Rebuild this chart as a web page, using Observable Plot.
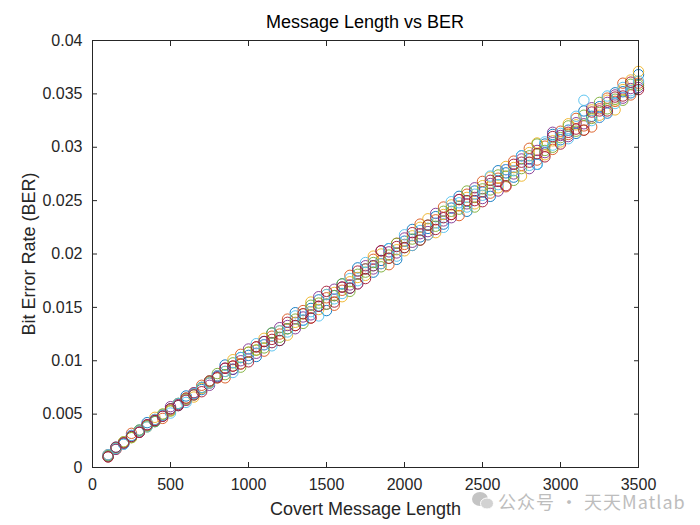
<!DOCTYPE html>
<html><head><meta charset="utf-8">
<script src="https://cdn.jsdelivr.net/npm/d3@7"></script>
<script src="https://cdn.jsdelivr.net/npm/@observablehq/plot@0.6"></script>
<style>
body{margin:0;background:#fff;font-family:"Liberation Sans",Arial,Helvetica,sans-serif;}
#wrap{position:relative;width:700px;height:525px;overflow:hidden;padding-top:24px;box-sizing:border-box;}
#title{position:absolute;left:92px;width:546px;top:11px;line-height:22px;text-align:center;font-size:18px;color:#000;}
#wm{position:absolute;left:472px;top:488px;display:flex;align-items:center;gap:4px;font-family:"Noto Sans CJK SC",sans-serif;font-size:18px;color:#bdbdbd;white-space:nowrap;letter-spacing:1px;}
</style></head><body>
<div id="wrap"><div id="title">Message Length vs BER</div><div id="chart"></div>
<div id="wm"><svg width="22" height="20" viewBox="0 0 22 20"><ellipse cx="8" cy="8" rx="8" ry="7" fill="#c4c4c4"/><ellipse cx="15" cy="12.5" rx="6.5" ry="5.5" fill="#d2d2d2" stroke="#fff" stroke-width="1"/></svg><span>公众号 · 天天Matlab</span></div>
</div>
<script>
// Covert message lengths (x)
const lengths = d3.range(69).map(i => 100 + 50 * i);
// BER readings for each run, in units of 1e-4
const run1 = [11,19,22,29,35,42,43,49,55,58,67,69,73,81,85,96,92,103,105,104,118,126,119,130,145,138,149,157,147,161,172,168,187,186,183,194,205,195,212,223,216,224,235,228,243,254,240,259,258,254,278,276,272,292,289,284,303,312,307,316,313,334,329,338,332,351,352,351,368];
const run2 = [12,17,23,32,33,39,45,46,54,60,63,70,77,79,86,84,95,106,102,113,109,123,125,139,133,147,140,151,159,152,166,180,172,186,195,191,190,210,209,208,228,218,232,244,237,236,256,253,268,257,271,263,287,283,299,288,301,298,315,312,327,320,319,336,346,343,360,349,360];
const run3 = [10,18,24,28,34,38,47,50,53,59,65,66,74,81,84,90,101,97,108,110,121,117,128,124,136,144,155,148,162,164,160,174,178,180,198,200,196,204,203,217,225,233,220,237,246,245,253,247,264,272,262,282,281,273,295,304,293,306,305,322,321,316,335,330,344,335,354,363,371];
const run4 = [10,17,23,30,33,40,44,48,57,59,63,70,75,77,85,93,92,100,111,107,115,117,131,133,130,141,143,160,153,167,169,171,172,189,186,203,202,201,215,211,219,221,238,231,234,251,247,262,252,266,259,279,275,289,280,297,295,314,311,310,323,322,337,328,342,349,346,355,356];
const run5 = [11,18,24,28,35,39,43,50,53,60,64,68,75,80,88,87,98,94,108,110,112,126,122,130,139,135,152,154,153,161,172,165,181,183,192,188,199,210,206,214,213,227,226,240,240,242,259,244,261,260,274,273,269,280,292,303,297,300,309,320,315,330,327,342,336,345,344,359,358];
const run6 = [12,18,22,30,34,38,45,49,51,60,61,69,75,79,86,90,89,103,102,116,115,114,128,127,142,138,146,142,162,158,163,177,175,192,189,191,205,198,218,208,222,218,229,225,249,248,244,256,255,273,265,279,278,292,283,284,305,302,313,308,329,344,325,328,348,341,356,353,362];
const run7 = [10,19,23,29,33,40,44,48,55,58,65,68,71,81,84,93,95,97,99,113,118,120,119,136,133,144,140,151,165,155,169,168,184,177,189,203,196,207,206,220,213,227,223,234,237,251,250,250,249,269,268,264,284,286,286,294,291,310,303,314,317,316,333,334,334,347,348,361,354];
const runs = [run1, run2, run3, run4, run5, run6, run7];
const runNames = ["Run 1","Run 2","Run 3","Run 4","Run 5","Run 6","Run 7"];
const runColors = ["#0072BD","#D95319","#EDB120","#7E2F8E","#77AC30","#4DBEEE","#A2142F"];
const xTicks = [0,500,1000,1500,2000,2500,3000,3500];
const yTicks = [0,0.005,0.01,0.015,0.02,0.025,0.03,0.035,0.04];

const data = [];
runs.forEach((r, s) => r.forEach((v, i) => data.push({len: lengths[i], ber: v / 1e4, run: runNames[s]})));

const axisColor = "#262626";
const yFmt = d => d === 0 ? "0" : d3.format("~g")(d);
const chart = Plot.plot({
  width: 700, height: 501,
  marginTop: 16, marginBottom: 58, marginLeft: 92, marginRight: 62,
  style: {fontFamily: '"Liberation Sans", Arial, Helvetica, sans-serif', fontSize: "16px", color: axisColor, background: "#fff"},
  x: {domain: [0, 3500]},
  y: {domain: [0, 0.04]},
  color: {domain: runNames, range: runColors},
  marks: [
    Plot.dot(data, {x: "len", y: "ber", stroke: "run", r: 5.2, strokeWidth: 0.9}),
    Plot.frame({stroke: axisColor}),
    Plot.axisX({ticks: xTicks, tickSize: -5, tickPadding: 16, tickFormat: d => String(d), label: null, fontSize: 16, stroke: axisColor}),
    Plot.axisX({ticks: [], label: "Covert Message Length", labelAnchor: "center", labelArrow: "none", labelOffset: 47, fontSize: 18}),
    Plot.axisX({anchor: "top", ticks: xTicks, tickSize: -5, tickFormat: () => "", label: null, stroke: axisColor}),
    Plot.axisY({ticks: yTicks, tickSize: -5, tickPadding: 15, tickFormat: yFmt, label: null, fontSize: 16, stroke: axisColor}),
    Plot.axisY({ticks: [], label: "Bit Error Rate (BER)", labelAnchor: "center", labelArrow: "none", labelOffset: 70, fontSize: 18}),
    Plot.axisY({anchor: "right", ticks: yTicks, tickSize: -5, tickFormat: () => "", label: null, stroke: axisColor})
  ]
});
document.getElementById("chart").appendChild(chart);
</script>
</body></html>
